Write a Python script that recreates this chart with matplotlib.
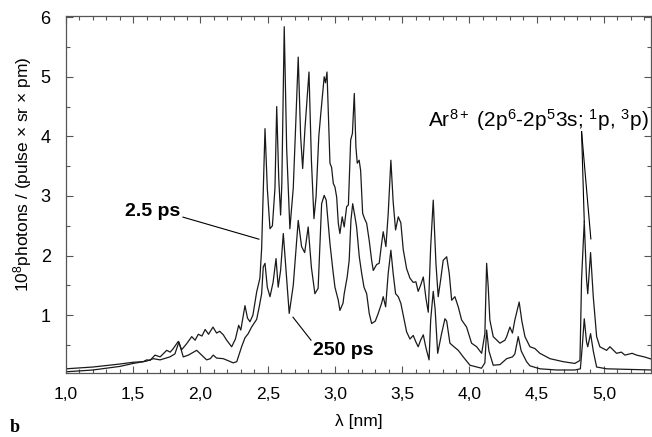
import matplotlib.pyplot as plt
from matplotlib.ticker import MultipleLocator

plt.rcParams['font.family'] = ['Liberation Sans', 'DejaVu Sans']
plt.rcParams['mathtext.fontset'] = 'custom'
plt.rcParams['mathtext.rm'] = 'Liberation Sans'
plt.rcParams['mathtext.it'] = 'Liberation Sans:italic'
plt.rcParams['mathtext.bf'] = 'Liberation Sans:bold'

# 2.5 ps pulse spectrum (wavelength nm, 10^8 photons/(pulse sr pm))
wl_short = [1.000, 1.20, 1.40, 1.50, 1.575, 1.60, 1.625, 1.662, 1.70, 1.749, 1.775, 1.798,
            1.835, 1.86, 1.897, 1.935, 1.96, 1.984, 2.011, 2.035, 2.06, 2.093, 2.12, 2.143,
            2.17, 2.195, 2.232, 2.26, 2.284, 2.30, 2.331, 2.35, 2.368, 2.39, 2.418, 2.442,
            2.455, 2.480, 2.497, 2.517, 2.535, 2.554, 2.567, 2.582, 2.596, 2.605, 2.623,
            2.641, 2.665, 2.690, 2.705, 2.727, 2.745, 2.760, 2.777, 2.807, 2.825, 2.844,
            2.86, 2.88, 2.894, 2.920, 2.930, 2.941, 2.963, 2.975, 2.988, 3.000, 3.013,
            3.025, 3.037, 3.054, 3.069, 3.087, 3.10, 3.117, 3.13, 3.144, 3.156, 3.166,
            3.18, 3.191, 3.206, 3.22, 3.236, 3.255, 3.273, 3.285, 3.31, 3.329, 3.347,
            3.359, 3.379, 3.396, 3.416, 3.433, 3.451, 3.471, 3.49, 3.508, 3.533, 3.558,
            3.582, 3.602, 3.619, 3.637, 3.657, 3.677, 3.694, 3.712, 3.731, 3.751, 3.768,
            3.786, 3.805, 3.831, 3.850, 3.868, 3.892, 3.917, 3.942, 3.979, 4.016, 4.054,
            4.091, 4.115, 4.128, 4.140, 4.152, 4.177, 4.227, 4.264, 4.277, 4.301, 4.32,
            4.338, 4.370, 4.39, 4.413, 4.450, 4.487, 4.524, 4.599, 4.697, 4.784, 4.822,
            4.834, 4.854, 4.871, 4.880, 4.901, 4.921, 4.946, 4.970, 5.020, 5.045, 5.094,
            5.13, 5.156, 5.21, 5.243, 5.30, 5.357]
int_short = [0.10, 0.13, 0.18, 0.21, 0.22, 0.25, 0.24, 0.33, 0.30, 0.41, 0.38, 0.44,
             0.56, 0.42, 0.52, 0.64, 0.58, 0.68, 0.65, 0.76, 0.68, 0.80, 0.70, 0.73,
             0.67, 0.58, 0.47, 0.60, 0.83, 0.75, 1.16, 0.95, 0.89, 1.00, 1.39, 1.62,
             2.12, 4.13, 3.13, 2.45, 2.50, 3.13, 4.50, 3.30, 2.68, 3.20, 5.84,
             3.80, 2.45, 3.13, 4.00, 5.33, 4.00, 3.46, 4.13, 5.08, 3.60, 2.62,
             3.00, 4.00, 4.36, 5.00, 4.90, 5.08, 3.55, 3.48, 3.21, 3.15, 2.98,
             2.54, 2.37, 2.65, 2.48, 2.82, 2.85, 3.94, 4.05, 4.72, 3.82, 3.55,
             3.60, 3.43, 2.71, 2.62, 2.54, 2.25, 1.92, 1.75, 1.85, 1.87, 2.20,
             2.40, 2.15, 2.70, 3.60, 2.90, 2.43, 2.65, 2.55, 2.10, 1.78, 1.62,
             1.55, 1.56, 1.40, 1.50, 1.64, 1.28, 1.05, 2.15, 2.93, 1.87, 1.31,
             1.59, 1.92, 1.98, 1.70, 1.25, 1.31, 1.14, 0.92, 0.80, 0.53, 0.47,
             0.36, 0.69, 1.87, 1.47, 0.92, 0.64, 0.53, 0.58, 0.64, 0.80, 0.70,
             0.92, 1.22, 0.90, 0.64, 0.47, 0.44, 0.36, 0.27, 0.22, 0.19, 0.24,
             1.60, 2.57, 1.60, 1.36, 2.05, 1.31, 0.64, 0.47, 0.41, 0.47, 0.36,
             0.38, 0.33, 0.36, 0.33, 0.30, 0.26]

# 250 ps pulse spectrum
wl_long = [1.000, 1.20, 1.40, 1.50, 1.60, 1.649, 1.70, 1.773, 1.81, 1.840, 1.872, 1.91,
           1.949, 1.972, 2.00, 2.046, 2.073, 2.095, 2.12, 2.17, 2.244, 2.27, 2.306, 2.331,
           2.355, 2.38, 2.418, 2.437, 2.455, 2.467, 2.480, 2.497, 2.517, 2.54, 2.562,
           2.578, 2.596, 2.616, 2.635, 2.660, 2.69, 2.727, 2.752, 2.775, 2.801, 2.825,
           2.851, 2.875, 2.901, 2.920, 2.935, 2.963, 2.985, 3.000, 3.025, 3.037, 3.06,
           3.069, 3.091, 3.106, 3.119, 3.132, 3.149, 3.161, 3.181, 3.199, 3.216, 3.236,
           3.255, 3.273, 3.30, 3.322, 3.347, 3.359, 3.377, 3.396, 3.416, 3.433, 3.451,
           3.471, 3.49, 3.508, 3.533, 3.558, 3.582, 3.602, 3.619, 3.637, 3.657, 3.677,
           3.700, 3.712, 3.731, 3.745, 3.764, 3.793, 3.818, 3.831, 3.855, 3.88, 3.917,
           3.954, 4.004, 4.054, 4.09, 4.115, 4.128, 4.145, 4.177, 4.227, 4.277, 4.32,
           4.338, 4.363, 4.385, 4.425, 4.45, 4.524, 4.65, 4.784, 4.825, 4.840, 4.854,
           4.871, 4.880, 4.901, 4.921, 4.946, 5.02, 5.357]
int_long = [0.05, 0.08, 0.14, 0.19, 0.23, 0.27, 0.25, 0.30, 0.35, 0.55, 0.30, 0.33,
            0.38, 0.41, 0.35, 0.25, 0.27, 0.33, 0.28, 0.27, 0.20, 0.22, 0.47, 0.62,
            0.69, 0.80, 0.93, 1.14, 1.36, 1.81, 1.87, 1.47, 1.31, 1.55, 1.95,
            1.47, 1.75, 2.37, 1.80, 1.03, 1.50, 2.59, 2.15, 2.05, 2.48, 1.80,
            1.36, 1.45, 2.87, 3.01, 2.93, 2.20, 1.75, 1.47, 1.25, 1.08, 1.20,
            1.36, 1.64, 1.92, 2.59, 2.87, 2.65, 2.48, 1.98, 1.70, 1.47, 1.36,
            1.03, 0.86, 0.90, 1.03, 1.20, 1.31, 1.14, 1.70, 2.09, 1.70, 1.36,
            1.31, 1.20, 1.00, 0.72, 0.60, 0.66, 0.55, 0.47, 0.58, 0.67, 0.45,
            0.25, 0.92, 1.40, 1.10, 0.36, 0.69, 0.94, 0.90, 0.53, 0.48, 0.41,
            0.30, 0.16, 0.13, 0.11, 0.20, 0.75, 0.40, 0.16, 0.17, 0.27, 0.30,
            0.35, 0.64, 0.40, 0.22, 0.15, 0.10, 0.08, 0.08, 0.10, 0.50, 0.94,
            0.55, 0.47, 0.69, 0.40, 0.13, 0.10, 0.08]

xticks = [1.0, 1.5, 2.0, 2.5, 3.0, 3.5, 4.0, 4.5, 5.0]
xtick_labels = ['1,0', '1,5', '2,0', '2,5', '3,0', '3,5', '4,0', '4,5', '5,0']
yticks = [1, 2, 3, 4, 5, 6]

fig = plt.figure(figsize=(6.52, 4.37), dpi=100)
ax = fig.add_axes([0.1012, 0.1465, 0.8972, 0.8169])

ax.plot(wl_short, int_short, color='#1a1a1a', lw=0.9)
ax.plot(wl_long, int_long, color='#1a1a1a', lw=0.9)

ax.set_xlim(1.0, 5.35)
ax.set_ylim(0.03, 6.02)
ax.set_xticks(xticks)
ax.set_xticklabels(xtick_labels)
ax.set_yticks(yticks)
ax.xaxis.set_minor_locator(MultipleLocator(0.1))
ax.yaxis.set_minor_locator(MultipleLocator(0.5))
ax.tick_params(which='both', direction='in', top=True, right=True,
               color='#555555', width=0.8)
ax.tick_params(which='major', length=5)
ax.tick_params(which='minor', length=3)
ax.tick_params(axis='x', which='major', labelsize=12.5, pad=10)
ax.tick_params(axis='y', which='major', labelsize=13, pad=11)
for s in ax.spines.values():
    s.set_color('#555555')
    s.set_linewidth(0.9)

ax.set_xlabel('λ [nm]', fontsize=12.5, labelpad=9)
fig.text(0.035, 0.6, '10$^{8}$photons / (pulse × sr × pm)', rotation=90,
         fontsize=12.5, ha='center', va='center')

# labels of the two curves
ax.text(1.647, 2.745, '2.5 ps', fontsize=14, fontweight='bold', ha='center', va='center')
ax.plot([1.870, 2.435], [2.645, 2.275], color='k', lw=0.8)
ax.text(3.06, 0.41, '250 ps', fontsize=14, fontweight='bold', ha='center', va='center')
ax.plot([2.688, 2.822], [0.966, 0.58], color='k', lw=0.8)

ax.text(3.69, 4.28, 'Ar$^{8+}$ (2p$^{6}$-2p$^{5}$3s; $^{1}$p, $^{3}$p)', fontsize=15,
        ha='left', va='center')
ax.plot([4.834, 4.854], [4.08, 2.57], color='k', lw=0.8)
ax.plot([4.834, 4.903], [4.08, 2.28], color='k', lw=0.8)

fig.text(0.015, 0.012, 'b', fontsize=13, fontweight='bold', family='Liberation Serif')

fig.savefig('out.png', dpi=100)
